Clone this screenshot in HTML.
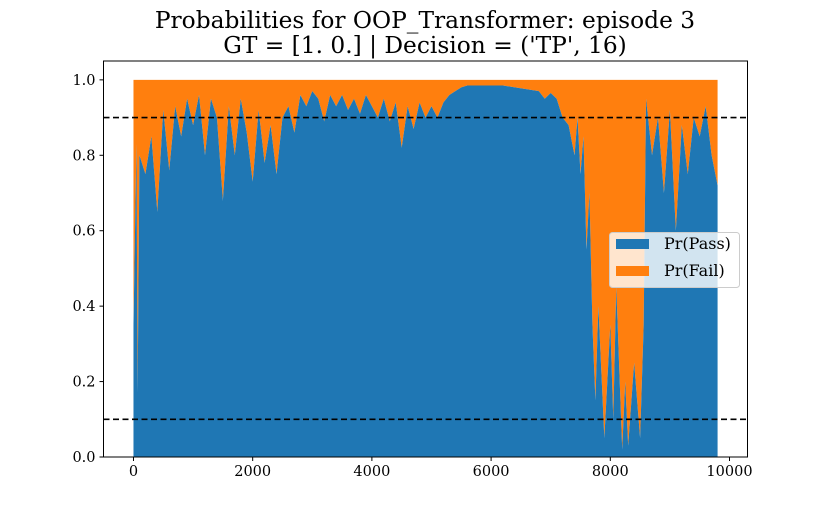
<!DOCTYPE html>
<html><head><meta charset="utf-8"><style>
body{margin:0;background:#fff;}
svg{display:block;font-family:"DejaVu Serif","Liberation Serif",serif;}
</style></head><body>
<svg id="chart" width="830" height="513">
<text x="425" y="28" text-anchor="middle" font-size="23.3">Probabilities for OOP_Transformer: episode 3</text>
<text x="425" y="53" text-anchor="middle" font-size="23.3">GT = [1. 0.] | Decision = ('TP', 16)</text>
<g id="plot"></g>
</svg>
<script>
const xs = [0,50,70,100,200,300,400,500,600,700,800,900,1000,1100,1200,1300,1400,1500,1600,1700,1800,1900,2000,2100,2200,2300,2400,2500,2600,2700,2800,2900,3000,3100,3200,3300,3400,3500,3600,3700,3800,3900,4000,4100,4200,4300,4400,4500,4600,4700,4800,4900,5000,5100,5200,5300,5400,5500,5600,5800,6000,6200,6400,6600,6800,6900,7000,7100,7200,7300,7400,7450,7500,7550,7600,7650,7700,7750,7800,7900,8000,8050,8100,8200,8250,8300,8400,8500,8560,8600,8700,8800,8900,9000,9100,9200,9300,9400,9500,9600,9700,9800];
const pass = [0.35,0.83,0.17,0.8,0.75,0.85,0.65,0.92,0.76,0.93,0.85,0.95,0.88,0.96,0.8,0.95,0.9,0.68,0.93,0.8,0.95,0.86,0.73,0.92,0.78,0.88,0.75,0.9,0.93,0.86,0.96,0.93,0.97,0.95,0.89,0.96,0.93,0.96,0.92,0.95,0.91,0.96,0.93,0.9,0.95,0.89,0.94,0.82,0.93,0.87,0.94,0.9,0.93,0.9,0.94,0.96,0.97,0.98,0.985,0.985,0.985,0.985,0.98,0.975,0.97,0.95,0.965,0.95,0.9,0.88,0.8,0.9,0.75,0.85,0.55,0.7,0.35,0.15,0.4,0.05,0.35,0.1,0.45,0.02,0.2,0.03,0.25,0.05,0.35,0.95,0.8,0.9,0.7,0.92,0.6,0.88,0.75,0.9,0.85,0.93,0.8,0.72];
const xTicks = [0,2000,4000,6000,8000,10000];
const yTicks = [0,0.2,0.4,0.6,0.8,1.0];
const thresholds = [0.9,0.1];

const L=103.5,R=747.5,T=61,B=457;
const xMin=-503,xMax=10302,yMin=0,yMax=1.05;
const sx=v=>L+(v-xMin)/(xMax-xMin)*(R-L);
const sy=v=>B-(v-yMin)/(yMax-yMin)*(B-T);
const g=document.getElementById('plot');
const NS='http://www.w3.org/2000/svg';
function mk(t,a){const e=document.createElementNS(NS,t);for(const k in a)e.setAttribute(k,a[k]);g.appendChild(e);return e;}

let fd='M'+sx(xs[0])+','+sy(1);
for(let i=0;i<xs.length;i++) fd+=' L'+sx(xs[i])+','+sy(1);
for(let i=xs.length-1;i>=0;i--) fd+=' L'+sx(xs[i])+','+sy(pass[i]);
const fail=mk('path',{d:fd+' Z',fill:'#ff7f0e'});


let pd='';
for(let i=0;i<xs.length;i++) pd+=(i?' L':'M')+sx(xs[i])+','+sy(pass[i]);
const pa=mk('path',{d:pd+' L'+sx(xs[xs.length-1])+','+sy(0)+' L'+sx(xs[0])+','+sy(0)+' Z',fill:'#1f77b4'});



thresholds.forEach(t=>{
 const l=mk('line',{x1:L,x2:R,y1:sy(t),y2:sy(t),stroke:'#000','stroke-width':1.6,'stroke-dasharray':'6,3.5'});
 
 
});
const fr=mk('rect',{x:L,y:T,width:R-L,height:B-T,fill:'none',stroke:'#000','stroke-width':1});


xTicks.forEach(v=>{
 const x=sx(v);
 mk('line',{x1:x,x2:x,y1:B,y2:B+4,stroke:'#000'});
 const t=mk('text',{x:x,y:B+19,'text-anchor':'middle','font-size':14.5});
 t.textContent=v;
 
 
});
yTicks.forEach(v=>{
 const y=sy(v);
 mk('line',{x1:L-4,x2:L,y1:y,y2:y,stroke:'#000'});
 const t=mk('text',{x:L-8,y:y+5,'text-anchor':'end','font-size':14.5});
 t.textContent=v.toFixed(1);
 
 
});
const lg=mk('rect',{x:609.5,y:232.5,width:130,height:55,rx:3,fill:'#fff','fill-opacity':0.8,stroke:'#ccc'});


[['#1f77b4','Pr(Pass)',244],['#ff7f0e','Pr(Fail)',271]].forEach(d=>{
 mk('rect',{x:616,y:d[2]-5,width:33,height:10,fill:d[0]});
 const t=mk('text',{x:664,y:d[2]+5,'font-size':16});
 t.textContent=d[1];
 
 
});
</script>
</body></html>
